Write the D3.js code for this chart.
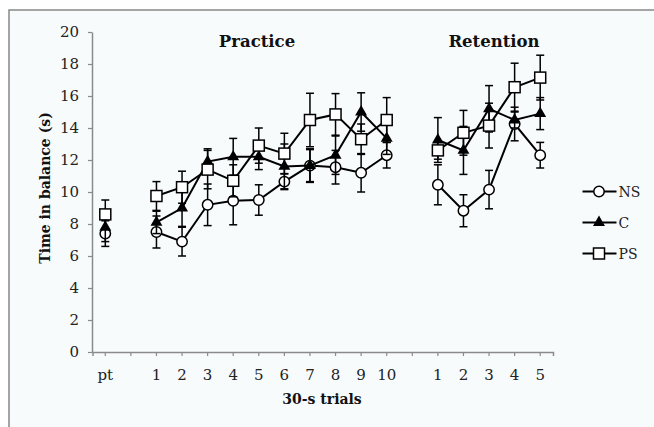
<!DOCTYPE html>
<html>
<head>
<meta charset="utf-8">
<script src="https://cdn.jsdelivr.net/npm/d3@7"></script>
<style>
  html, body { margin: 0; padding: 0; background: #ffffff; }
  svg { display: block; }
</style>
</head>
<body>
<svg id="chart" width="654" height="427"></svg>
<script>
// ---- data ----
const categories = ["pt","gap1","P1","P2","P3","P4","P5","P6","P7","P8","P9","P10","gap2","R1","R2","R3","R4","R5"];
const tickLabels = ["pt","","1","2","3","4","5","6","7","8","9","10","","1","2","3","4","5"];
const pointCategories = ["pt","P1","P2","P3","P4","P5","P6","P7","P8","P9","P10","R1","R2","R3","R4","R5"];
const phases = ["pre","practice","practice","practice","practice","practice","practice","practice","practice","practice","practice","retention","retention","retention","retention","retention"];
const yTicks = [0,2,4,6,8,10,12,14,16,18,20];
const seriesNames = ["NS","C","PS"];
const nsValues = [7.4, 7.5, 6.9, 9.2, 9.45, 9.5, 10.65, 11.65, 11.55, 11.2, 12.3, 10.45, 8.83, 10.15, 14.25, 12.3];
const nsErrors = [0.8, 1.0, 0.9, 1.3, 1.5, 0.95, 0.5, 1.05, 1.05, 1.2, 0.8, 1.25, 1.0, 1.2, 1.05, 0.8];
const cValues  = [7.8, 8.1, 9.0, 11.9, 12.2, 12.2, 11.6, 11.65, 12.3, 15.0, 13.35, 13.25, 12.6, 15.2, 14.5, 14.9];
const cErrors  = [0.9, 0.7, 1.15, 0.8, 1.15, 0.8, 1.4, 1.0, 1.2, 1.2, 1.0, 1.4, 1.5, 1.45, 0.5, 1.0];
const psValues = [8.6, 9.75, 10.3, 11.4, 10.7, 12.9, 12.4, 14.5, 14.85, 13.3, 14.5, 12.6, 13.7, 14.15, 16.55, 17.15];
const psErrors = [0.9, 0.9, 1.0, 1.2, 1.0, 1.1, 1.27, 1.67, 1.3, 0.95, 1.4, 0.55, 1.4, 1.4, 1.5, 1.4];

const valuesBy = { NS: nsValues, C: cValues, PS: psValues };
const errorsBy = { NS: nsErrors, C: cErrors, PS: psErrors };

// ---- layout ----
const svg = d3.select("#chart");
const serif = "'DejaVu Serif', 'Liberation Serif', serif";
const axisColor = "#8a8a8a";

// frame
svg.append("rect").attr("x", 0).attr("y", 0).attr("width", 654).attr("height", 427).attr("fill", "#ffffff");
svg.append("rect").attr("x", 9).attr("y", 10).attr("width", 700).attr("height", 500)
  .attr("fill", "#f8fbfc").attr("stroke", "#8f8f8f").attr("stroke-width", 1.6);

const x = d3.scaleBand().domain(categories).range([92.5, 553]).padding(0);
const y = d3.scaleLinear().domain([0, 20]).range([352, 32]);
const cx = c => x(c) + x.bandwidth() / 2;

// y axis
const yAxis = svg.append("g").attr("transform", "translate(92,0)")
  .call(d3.axisLeft(y).tickValues(yTicks).tickSize(4).tickSizeOuter(0).tickPadding(9));
yAxis.select(".domain").attr("stroke", axisColor).attr("stroke-width", 1.5);
yAxis.selectAll(".tick line").attr("stroke", axisColor).attr("stroke-width", 1.2);
yAxis.selectAll(".tick text").attr("font-family", serif).attr("font-size", 15).attr("fill", "#222");

// x axis
const xAxis = svg.append("g").attr("transform", "translate(0,352)")
  .call(d3.axisBottom(x).tickFormat((d, i) => tickLabels[i]).tickSize(4).tickSizeOuter(4).tickPadding(13));
xAxis.select(".domain").attr("stroke", axisColor).attr("stroke-width", 1.5);
xAxis.selectAll(".tick line").attr("stroke", axisColor).attr("stroke-width", 1.2);
xAxis.selectAll(".tick text").attr("font-family", serif).attr("font-size", 15).attr("fill", "#222");

// titles
svg.append("text").attr("x", 257).attr("y", 47).attr("text-anchor", "middle")
  .attr("font-family", serif).attr("font-weight", "bold").attr("font-size", 16.5).attr("fill", "#111").text("Practice");
svg.append("text").attr("x", 494).attr("y", 47).attr("text-anchor", "middle")
  .attr("font-family", serif).attr("font-weight", "bold").attr("font-size", 16.5).attr("fill", "#111").text("Retention");
svg.append("text").attr("transform", "translate(50,188) rotate(-90)").attr("text-anchor", "middle")
  .attr("font-family", serif).attr("font-weight", "bold").attr("font-size", 14).attr("fill", "#111").text("Time in balance (s)");
svg.append("text").attr("x", 322).attr("y", 404).attr("text-anchor", "middle")
  .attr("font-family", serif).attr("font-weight", "bold").attr("font-size", 14).attr("fill", "#111").text("30-s trials");

// markers
function drawMarker(g, name, px, py) {
  if (name === "NS") {
    g.append("circle").attr("cx", px).attr("cy", py).attr("r", 5.2)
      .attr("fill", "#fff").attr("stroke", "#000").attr("stroke-width", 1.5);
  } else if (name === "C") {
    g.append("path").attr("d", d3.symbol().type(d3.symbolTriangle).size(62)())
      .attr("transform", `translate(${px},${py})`).attr("fill", "#000");
  } else {
    g.append("rect").attr("x", px - 5.5).attr("y", py - 5.5).attr("width", 11).attr("height", 11)
      .attr("fill", "#fff").attr("stroke", "#000").attr("stroke-width", 1.5);
  }
}

const plot = svg.append("g");
seriesNames.forEach(name => {
  const vals = valuesBy[name], errs = errorsBy[name];
  const pts = pointCategories.map((c, i) => ({ c, v: vals[i], e: errs[i], phase: phases[i] }));
  const g = plot.append("g");
  // error bars
  pts.forEach(p => {
    const px = cx(p.c);
    g.append("line").attr("x1", px).attr("x2", px).attr("y1", y(p.v - p.e)).attr("y2", y(p.v + p.e))
      .attr("stroke", "#000").attr("stroke-width", 1.5);
    [p.v - p.e, p.v + p.e].forEach(v => {
      g.append("line").attr("x1", px - 4).attr("x2", px + 4).attr("y1", y(v)).attr("y2", y(v))
        .attr("stroke", "#000").attr("stroke-width", 1.5);
    });
  });
  // lines per phase
  const line = d3.line().x(p => cx(p.c)).y(p => y(p.v));
  ["practice", "retention"].forEach(ph => {
    g.append("path").datum(pts.filter(p => p.phase === ph)).attr("d", line)
      .attr("fill", "none").attr("stroke", "#000").attr("stroke-width", 2);
  });
  pts.forEach(p => drawMarker(g, name, cx(p.c), y(p.v)));
});

// legend
const legendY = [191.5, 222.5, 253.5];
seriesNames.forEach((name, i) => {
  const g = svg.append("g");
  g.append("line").attr("x1", 582.5).attr("x2", 616.5).attr("y1", legendY[i]).attr("y2", legendY[i])
    .attr("stroke", "#000").attr("stroke-width", 2);
  drawMarker(g, name, 599, legendY[i]);
  g.append("text").attr("x", 618.5).attr("y", legendY[i] + 5).attr("font-family", serif)
    .attr("font-size", 14).attr("fill", "#222").text(name);
});
</script>
</body>
</html>
